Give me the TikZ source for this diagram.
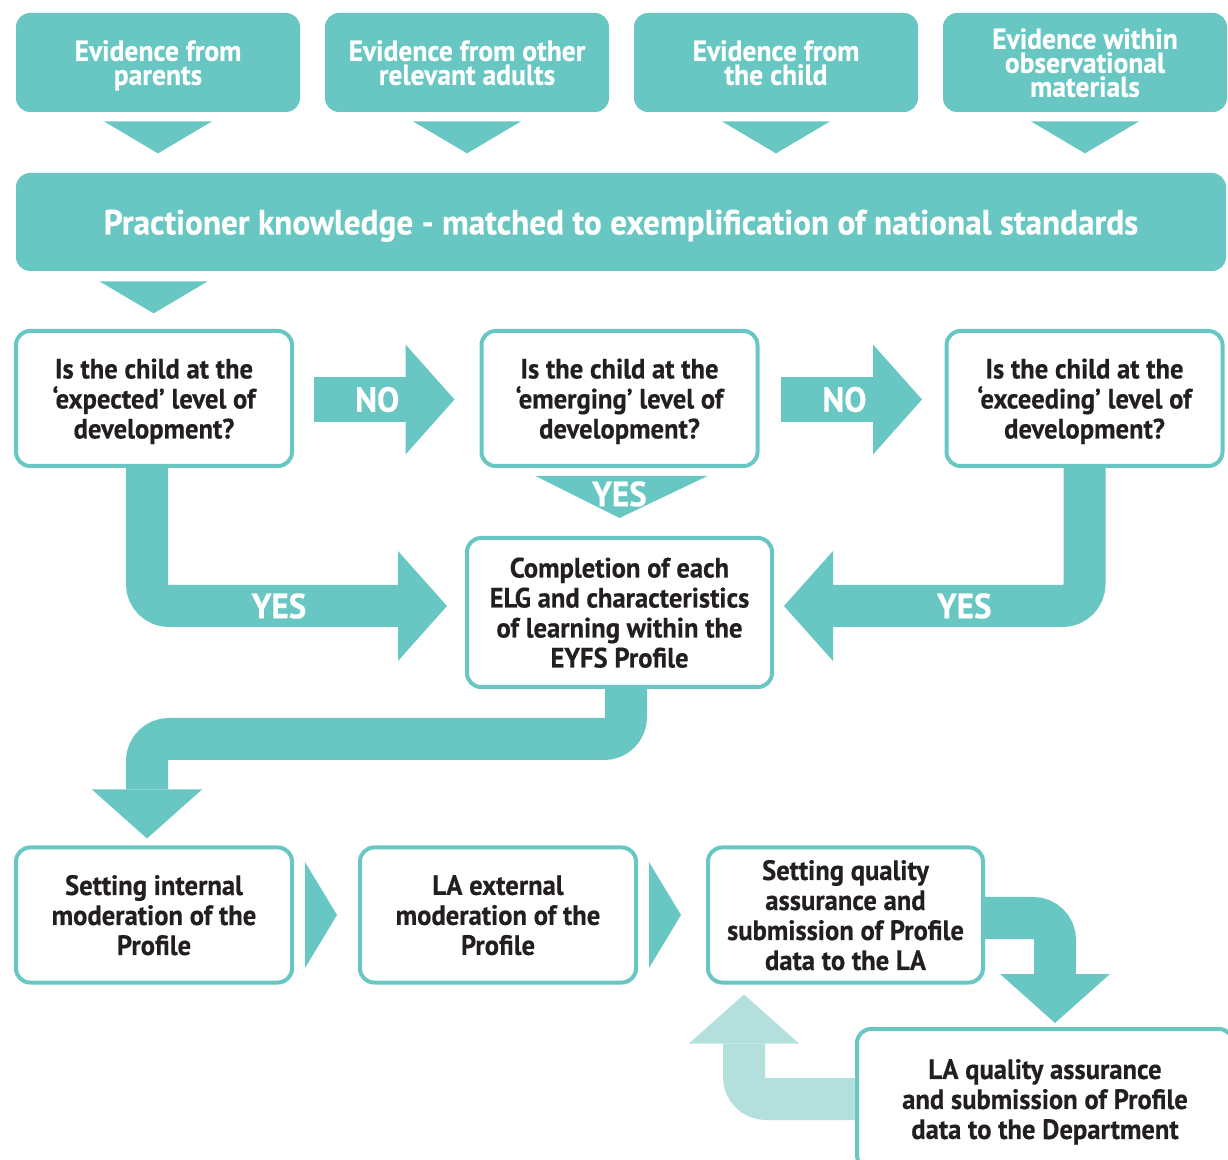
\documentclass[tikz,border=0pt]{standalone}
\usepackage{fontspec}
\setmainfont{PT Sans}[FakeStretch=0.95, BoldFeatures={FakeBold=0.4}]
\usetikzlibrary{positioning, arrows.meta, calc}

\definecolor{eyfsteal}{HTML}{68C7C3}
\definecolor{eyfslight}{HTML}{B3DFDD}
\definecolor{eyfsink}{HTML}{231F20}

\newcommand\evfont{\bfseries\fontsize{14.5}{12}\selectfont}
\newcommand\boxfont{\bfseries\fontsize{14}{15}\selectfont}
\newcommand\barfont{\bfseries\fontsize{17.5}{20}\selectfont}
\newcommand\labelfont{\bfseries\fontsize{17.5}{20}\selectfont}

\tikzset{
x=0.5pt, y=-0.5pt, % one unit is one pixel of the page, y runs downwards
evidence/.style={fill=eyfsteal, rounded corners=7pt, text=white, align=center,
  minimum width=142pt, minimum height=49.5pt, inner sep=0pt, text depth=0pt, font=\evfont}, % filled boxes on top
question/.style={draw=eyfsteal, line width=2pt, fill=white, rounded corners=7pt,
  text=eyfsink, align=center, minimum width=138pt, minimum height=67.5pt,
  inner sep=0pt, text depth=0pt, font=\boxfont}, % white boxes with a teal rim
flow/.style={draw=eyfsteal, line width=21pt, rounded corners=11pt,
  -{Triangle[width=55pt, length=24.5pt, line width=0pt]}}, % the broad block arrows
flowlabel/.style={text=white, font=\labelfont},
}

\begin{document}
\begin{tikzpicture}
\useasboundingbox (0,0) rectangle (1228,1160);

\node[evidence] (ev1) at (158,62.5) {Evidence from\\parents};
\node[evidence, right of=ev1, node distance=154.5pt] (ev2) {Evidence from other\\relevant adults};
\node[evidence, right of=ev2, node distance=154.5pt] (ev3) {Evidence from\\the child};
\node[evidence, right of=ev3, node distance=154.5pt] (ev4) {Evidence within\\observational\\materials};

\node[evidence, minimum width=605pt, minimum height=49pt, font=\barfont] (bar) at (621,222)
  {Practioner knowledge - matched to exemplification of national standards};

\node[question] (q1) at (154,398.5) {Is the child at the\\‘expected’ level of\\development?};
\node[question, right of=q1, node distance=232.75pt] (q2) {Is the child at the\\‘emerging’ level of\\development?};
\node[question, right of=q2, node distance=232.5pt] (q3) {Is the child at the\\‘exceeding’ level of\\development?};

\node[question, minimum width=152.5pt, minimum height=74.5pt] (done) at (619.5,612.5)
  {Completion of each\\ELG and characteristics\\of learning within the\\EYFS Profile};

\node[question] (s1) at (154,915) {Setting internal\\moderation of the\\Profile};
\node[question, right of=s1, node distance=172pt] (s2) {LA external\\moderation of the\\Profile};
\node[question, right of=s2, node distance=173.75pt, minimum width=137.5pt] (s3)
  {Setting quality\\assurance and\\submission of Profile\\data to the LA};
\node[question, minimum width=188pt, minimum height=70pt] (s4) at (1045,1099)
  {LA quality assurance\\and submission of Profile\\data to the Department};

% pointers under the evidence boxes
\foreach \n in {ev1,ev2,ev3,ev4}
  \fill[eyfsteal] ($(\n.south)+(-54,9)$) -- ($(\n.south)+(54,9)$) -- ($(\n.south)+(0,41)$) -- cycle;
\fill[eyfsteal] ($(bar.south west)+(84,10)$) -- ($(bar.south west)+(192,10)$) -- ($(bar.south west)+(138,42)$) -- cycle;

% NO / YES
\draw[flow, line width=22.5pt] ($(q1.east)+(20,1)$) -- ($(q2.west)+(-25,1)$) node[flowlabel, pos=0.45] {NO};
\draw[flow, line width=22.5pt] ($(q2.east)+(21.5,1)$) -- ($(q3.west)+(-22.5,1)$) node[flowlabel, pos=0.45] {NO};
\fill[eyfsteal] ($(q2.south)+(-84,8)$) -- ($(q2.south)+(88,8)$) -- ($(q2.south)+(0,50)$) -- cycle;
\node[flowlabel] (yes2) at ($(q2.south)+(0,26)$) {YES};
\draw[flow] ($(q1.south)+(-7,0)$) |- ($(done.west)+(-18,-6.5)$) node[flowlabel, pos=0.72] {YES};
\draw[flow] (q3.south) |- ($(done.east)+(10,-6.5)$) node[flowlabel, pos=0.70] {YES};

% moderation and submission
\draw[flow] ($(done.south)+(6.5,0)$) -- ++(0,50) -| ($(s1.north)+(-7,-7)$);
\foreach \n in {s1,s2}
  \fill[eyfsteal] ($(\n.east)+(11,-53)$) -- ($(\n.east)+(43,0)$) -- ($(\n.east)+(11,53)$) -- cycle;
\draw[flow] ($(s3.east)+(0,3)$) -| ($(s4.north)+(10,-4)$);
\draw[flow, draw=eyfslight] (s4.west) -| ($(s3.south)+(-101.5,10)$);

\end{tikzpicture}
\end{document}
